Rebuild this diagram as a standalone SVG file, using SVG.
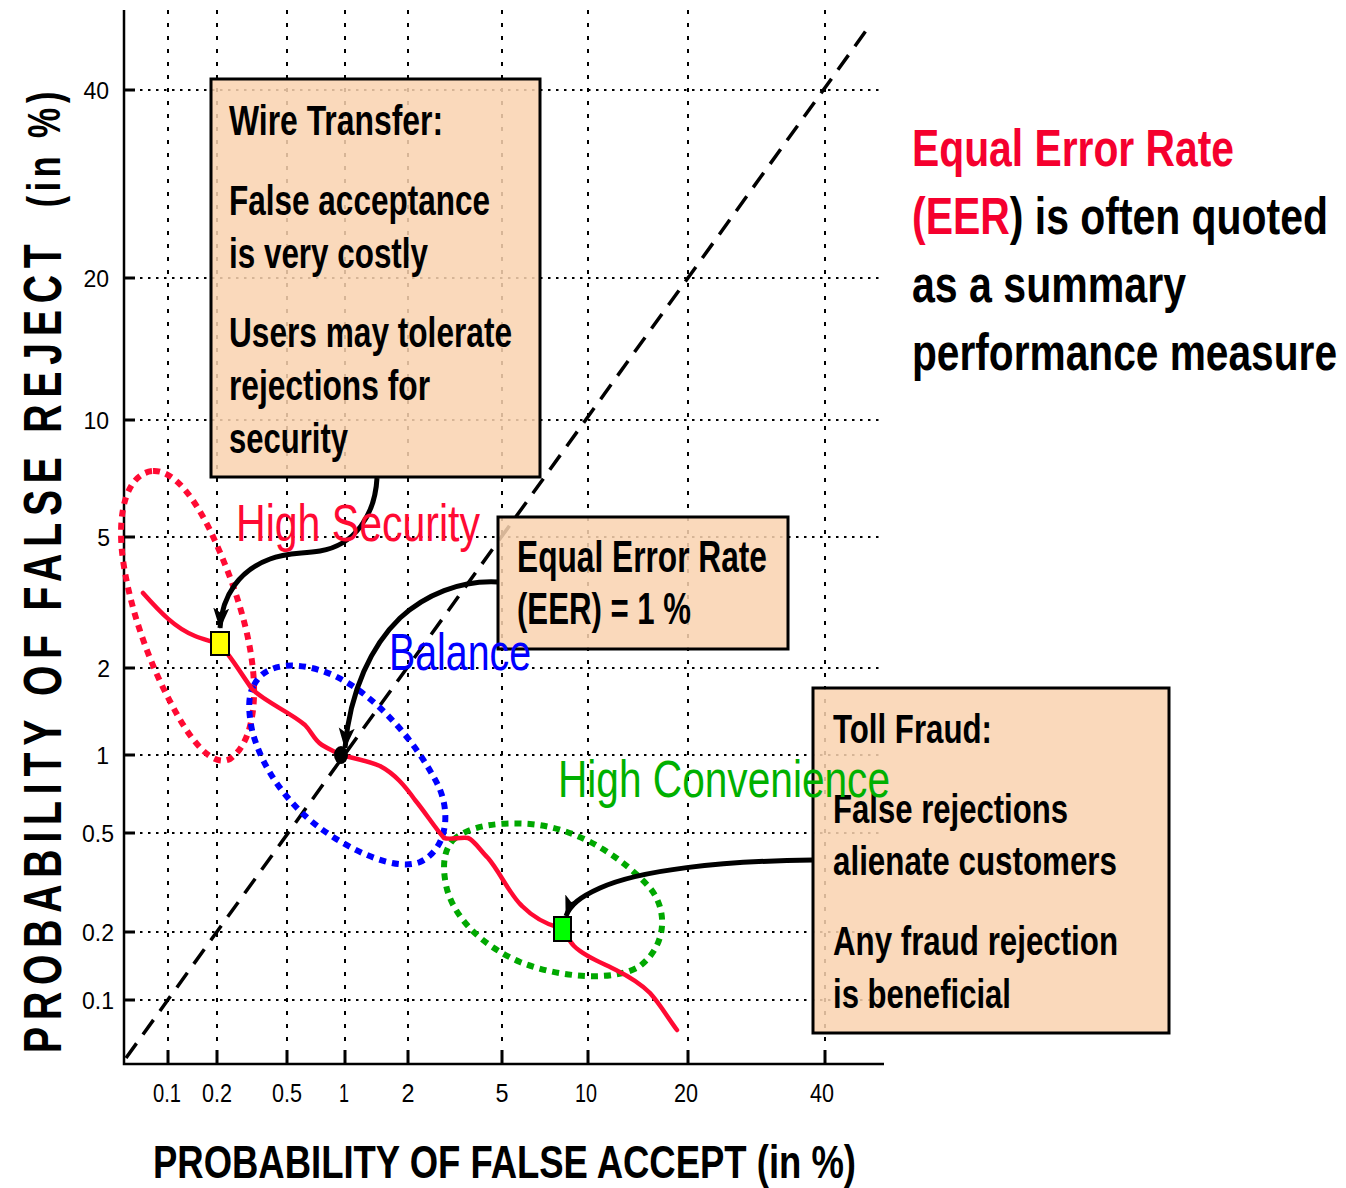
<svg xmlns="http://www.w3.org/2000/svg" width="1346" height="1188" viewBox="0 0 1346 1188">
  <defs>
    <style>
      .gridh { stroke: #000; stroke-width: 2; stroke-dasharray: 2.5 5.5; fill: none; }
      .gridv { stroke: #000; stroke-width: 2; stroke-dasharray: 4 9; fill: none; }
      .axis { stroke: #000; stroke-width: 2.5; fill: none; }
      .tick { stroke: #000; stroke-width: 3; }
      .ticklbl { font-family: "Liberation Sans", Arial, sans-serif; font-size: 23px; fill: #000; }
      .xlbl { font-family: "Liberation Sans", Arial, sans-serif; font-size: 25px; fill: #000; text-anchor: middle; }
      .box { fill: #F9D3B0; fill-opacity: 0.86; stroke: #000; stroke-width: 3; }
      .boxtxt { font-family: "Liberation Sans", Arial, sans-serif; font-weight: bold; fill: #000; }
      .loop { fill: none; stroke-width: 6; stroke-dasharray: 7 6; }
      .arrow { fill: none; stroke: #000; stroke-width: 5; marker-end: url(#head); }
      .big { font-family: "Liberation Sans", Arial, sans-serif; font-size: 52px; }
      .title { font-family: "Liberation Sans", Arial, sans-serif; font-weight: bold; fill: #000; }
    </style>
    <marker id="head" markerUnits="userSpaceOnUse" markerWidth="24" markerHeight="18" refX="20" refY="8" orient="auto">
      <path d="M0,0 L21,8 L0,16 L5,8 Z" fill="#000"/>
    </marker>
  </defs>

  <rect width="1346" height="1188" fill="#fff"/>

  <!-- grid -->
  <g id="grid">
    <path class="gridv" d="M168,10V1064 M217,10V1064 M287,10V1064 M345,10V1064 M408,10V1064 M502,10V1064 M588,10V1064 M688,10V1064 M825,10V1064"/>
    <path class="gridh" d="M124,90H884 M124,278H884 M124,420H884 M124,537H884 M124,668H884 M124,755H884 M124,833H884 M124,932H884 M124,1000H884"/>
  </g>

  <!-- axes and ticks -->
  <g id="axes">
    <path class="axis" d="M124,10V1064H884"/>
    <path class="tick" d="M124,90h11 M124,278h11 M124,420h11 M124,537h11 M124,668h11 M124,755h11 M124,833h11 M124,932h11 M124,1000h11"/>
    <path class="tick" d="M168,1064v-14 M217,1064v-14 M287,1064v-14 M345,1064v-14 M408,1064v-14 M502,1064v-14 M588,1064v-14 M688,1064v-14 M825,1064v-14"/>
    <g class="ticklbl" text-anchor="end">
      <text x="109" y="99">40</text>
      <text x="109" y="287">20</text>
      <text x="109" y="429">10</text>
      <text x="110" y="546">5</text>
      <text x="110" y="677">2</text>
      <text x="109" y="764">1</text>
      <text x="114" y="842">0.5</text>
      <text x="114" y="941">0.2</text>
      <text x="114" y="1009">0.1</text>
    </g>
    <g>
      <text class="xlbl" x="167" y="1102" textLength="28" lengthAdjust="spacingAndGlyphs">0.1</text>
      <text class="xlbl" x="217" y="1102" textLength="30" lengthAdjust="spacingAndGlyphs">0.2</text>
      <text class="xlbl" x="287" y="1102" textLength="30" lengthAdjust="spacingAndGlyphs">0.5</text>
      <text class="xlbl" x="344" y="1102" textLength="10" lengthAdjust="spacingAndGlyphs">1</text>
      <text class="xlbl" x="408" y="1102" textLength="13" lengthAdjust="spacingAndGlyphs">2</text>
      <text class="xlbl" x="502" y="1102" textLength="13" lengthAdjust="spacingAndGlyphs">5</text>
      <text class="xlbl" x="586" y="1102" textLength="22" lengthAdjust="spacingAndGlyphs">10</text>
      <text class="xlbl" x="686" y="1102" textLength="24" lengthAdjust="spacingAndGlyphs">20</text>
      <text class="xlbl" x="822" y="1102" textLength="24" lengthAdjust="spacingAndGlyphs">40</text>
    </g>
    <text class="title" x="153" y="1178" font-size="46" textLength="703" lengthAdjust="spacingAndGlyphs">PROBABILITY OF FALSE ACCEPT (in %)</text>
    <!-- vertical title: narrow letters with wide tracking -->
    <g transform="translate(61,1053) rotate(-90) scale(0.74,1)">
      <text class="title" x="0" y="0" font-size="53" textLength="1093" lengthAdjust="spacing">PROBABILITY OF FALSE REJECT</text>
      <text class="title" x="1143" y="-1" font-size="46" textLength="156" lengthAdjust="spacing">(in %)</text>
    </g>
  </g>

  <!-- equal error rate diagonal -->
  <path id="eer-line" d="M126,1058 L868,28" stroke="#000" stroke-width="3.5" stroke-dasharray="18 11" fill="none"/>

  <!-- annotation boxes -->
  <g id="wire-transfer">
    <rect class="box" x="211" y="79" width="329" height="398"/>
    <g class="boxtxt" font-size="42">
      <text x="229" y="135" textLength="214" lengthAdjust="spacingAndGlyphs">Wire Transfer:</text>
      <text x="229" y="215" textLength="261" lengthAdjust="spacingAndGlyphs">False acceptance</text>
      <text x="229" y="268" textLength="199" lengthAdjust="spacingAndGlyphs">is very costly</text>
      <text x="229" y="347" textLength="283" lengthAdjust="spacingAndGlyphs">Users may tolerate</text>
      <text x="229" y="400" textLength="201" lengthAdjust="spacingAndGlyphs">rejections for</text>
      <text x="229" y="453" textLength="119" lengthAdjust="spacingAndGlyphs">security</text>
    </g>
  </g>

  <g id="eer-box">
    <rect class="box" x="498" y="517" width="290" height="132"/>
    <g class="boxtxt" font-size="44">
      <text x="517" y="572" textLength="250" lengthAdjust="spacingAndGlyphs">Equal Error Rate</text>
      <text x="517" y="624" textLength="174" lengthAdjust="spacingAndGlyphs">(EER) = 1 %</text>
    </g>
  </g>

  <g id="toll-fraud">
    <rect class="box" x="813" y="688" width="356" height="345"/>
    <g class="boxtxt" font-size="40">
      <text x="833" y="743" textLength="159" lengthAdjust="spacingAndGlyphs">Toll Fraud:</text>
      <text x="833" y="823" textLength="235" lengthAdjust="spacingAndGlyphs">False rejections</text>
      <text x="833" y="875" textLength="284" lengthAdjust="spacingAndGlyphs">alienate customers</text>
      <text x="833" y="955" textLength="285" lengthAdjust="spacingAndGlyphs">Any fraud rejection</text>
      <text x="833" y="1008" textLength="178" lengthAdjust="spacingAndGlyphs">is beneficial</text>
    </g>
  </g>

  <!-- operating regions -->
  <g id="high-security-region">
    <path class="loop" stroke="#FF0A33" d="M153,471 C175,470 195,500 210,530 C228,568 248,620 253,670 C257,710 250,745 230,759 C212,768 190,740 172,705 C150,665 130,610 123,560 C116,510 128,473 153,471 Z"/>
  </g>
  <g id="balance-region">
    <path class="loop" stroke="#0000FF" d="M254,685 C265,662 300,660 335,676 C375,695 415,740 438,785 C452,815 446,850 420,862 C395,872 350,850 320,828 C290,806 262,770 252,730 C248,710 248,695 254,685 Z"/>
  </g>
  <g id="high-convenience-region">
    <path class="loop" stroke="#00A800" d="M453,840 C470,825 500,822 530,824 C580,828 625,860 650,888 C668,910 667,945 640,966 C615,982 560,978 520,962 C480,945 452,915 446,885 C442,865 444,850 453,840 Z"/>
  </g>

  <!-- DET curve -->
  <path id="det-curve" fill="none" stroke="#FF0A33" stroke-width="4.5" stroke-linejoin="round" stroke-linecap="round"
        d="M143,593 C160,612 175,628 195,636 C205,640 215,642 220,645 C228,652 240,672 252,689 C265,702 290,712 305,725 C312,732 314,740 322,745 C330,750 336,752 341,755 C352,758 365,760 380,766 C395,774 405,786 415,800 C425,812 435,828 444,838 C450,840 460,837 468,838 C474,840 480,850 488,858 C500,872 510,895 522,906 C532,916 545,924 560,928 C566,932 568,940 574,946 C584,956 600,962 616,970 C630,977 640,983 650,993 C660,1004 668,1018 677,1030"/>

  <!-- connectors -->
  <g id="connectors">
    <path class="arrow" d="M377,478 C375,515 355,545 320,551 C300,554 285,553 270,559 C240,570 222,595 220,628"/>
    <path class="arrow" d="M498,582 C460,580 425,595 400,618 C372,645 350,690 345,748"/>
    <path class="arrow" stroke-width="6" d="M813,860 C720,861 640,870 600,888 C580,897 570,905 566,916"/>
  </g>

  <!-- operating points -->
  <g id="points">
    <rect x="211" y="632" width="18" height="23" fill="#FFFF00" stroke="#000" stroke-width="2"/>
    <ellipse cx="341" cy="755" rx="7" ry="9" fill="#000"/>
    <rect x="554" y="917" width="17" height="24" fill="#00FF00" stroke="#000" stroke-width="2"/>
  </g>

  <!-- region labels -->
  <g id="labels">
    <text class="big" x="236" y="541" fill="#FF0A33" textLength="244" lengthAdjust="spacingAndGlyphs">High Security</text>
    <text class="big" x="389" y="670" fill="#0000FF" textLength="142" lengthAdjust="spacingAndGlyphs">Balance</text>
    <text class="big" x="558" y="797" fill="#00B000" textLength="332" lengthAdjust="spacingAndGlyphs">High Convenience</text>
  </g>

  <!-- side note -->
  <g id="eer-note" class="title" font-size="52">
    <text x="912" y="166" fill="#F5002E" textLength="322" lengthAdjust="spacingAndGlyphs">Equal Error Rate</text>
    <text x="912" y="234" textLength="416" lengthAdjust="spacingAndGlyphs"><tspan fill="#F5002E">(EER</tspan>) is often quoted</text>
    <text x="912" y="302" textLength="274" lengthAdjust="spacingAndGlyphs">as a summary</text>
    <text x="912" y="370" textLength="425" lengthAdjust="spacingAndGlyphs">performance measure</text>
  </g>
</svg>
